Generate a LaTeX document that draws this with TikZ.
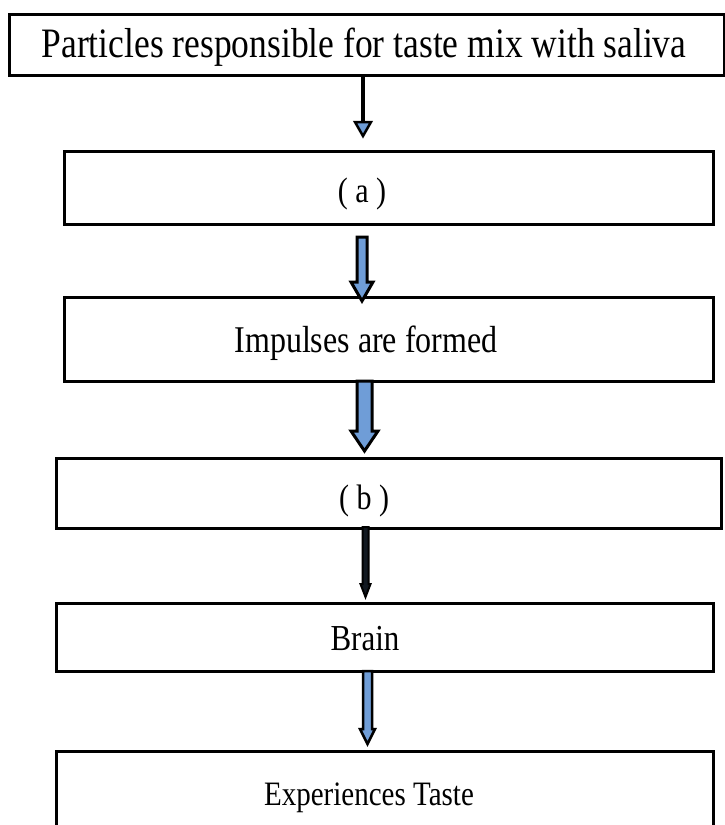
\documentclass[tikz,border=0pt]{standalone}
\usepackage{fontspec}
\usepackage{graphicx}
\setmainfont{Liberation Serif}
\definecolor{arrowblue}{RGB}{111,157,215}
\newcommand\tall[1]{\scalebox{1}[1.18]{#1}}
\begin{document}
\begin{tikzpicture}[x=1pt,y=-1pt,
  box/.style={draw=black,line width=3pt,inner sep=0pt},
  lbl/.style={anchor=base,inner sep=0pt,text=black},
  barrow/.style={draw=black,line width=3pt,fill=arrowblue,line join=miter},
  thinshaft/.style={draw=black,line width=4pt},
  ]
\useasboundingbox (0,0) rectangle (724,825);
% boxes
\node[box,minimum width=715pt,minimum height=61pt,anchor=north west] (b1) at (7.5,13) {};
\node[box,minimum width=649pt,minimum height=73pt,anchor=north west] (b2) at (63,150) {};
\node[box,minimum width=649pt,minimum height=84pt,anchor=north west] (b3) at (63,296) {};
\node[box,minimum width=665pt,minimum height=70pt,anchor=north west] (b4) at (55,457) {};
\node[box,minimum width=657pt,minimum height=68pt,anchor=north west] (b5) at (55,602) {};
\node[box,minimum width=657pt,minimum height=90pt,anchor=north west] (b6) at (55,750) {};
% labels
\node[lbl,font=\fontsize{35.5}{40}\selectfont] (t1) at (364,57) {\tall{Particles responsible for taste mix with saliva}};
\node[lbl,font=\fontsize{30}{36}\selectfont] (t2) at (362,202) {\tall{( a )}};
\node[lbl,font=\fontsize{32}{38}\selectfont] (t3) at (366,352) {\tall{Impulses are formed}};
\node[lbl,font=\fontsize{30}{36}\selectfont] (t4) at (364,509) {\tall{( b )}};
\node[lbl,font=\fontsize{31}{37}\selectfont] (t5) at (365,650) {\tall{Brain}};
\node[lbl,font=\fontsize{29}{35}\selectfont] (t6) at (369,805) {\tall{Experiences Taste}};
% arrow 1: thin line with small blue triangle head
\coordinate (a1s) at (363,74);
\coordinate (a1h) at (363,122);
\draw[thinshaft] (a1s) -- (a1h);
\filldraw[draw=black,line width=2.5pt,fill=arrowblue,line join=miter] (355,122) -- (371,122) -- (363,136) -- cycle;
% arrow 2: block arrow
\filldraw[barrow] (357,237) -- (367,237) -- (367,282) -- (373,282) -- (362,301) -- (351,282) -- (357,282) -- cycle;
% arrow 3: block arrow
\filldraw[barrow] (357,381) -- (372,381) -- (372,431) -- (378,431) -- (364.5,451) -- (351,431) -- (357,431) -- cycle;
% arrow 4: narrow dark arrow
\filldraw[draw=black,line width=2pt,fill=black!85!arrowblue] (362.5,527) -- (368.5,527) -- (368.5,584) -- (370.5,584) -- (365.5,597) -- (360.5,584) -- (362.5,584) -- cycle;
% arrow 5: narrow arrow with thin blue core
\filldraw[barrow,line width=2.5pt] (363,671) -- (372,671) -- (372,729) -- (375,729) -- (367.5,744) -- (360,729) -- (363,729) -- cycle;
\end{tikzpicture}
\end{document}
